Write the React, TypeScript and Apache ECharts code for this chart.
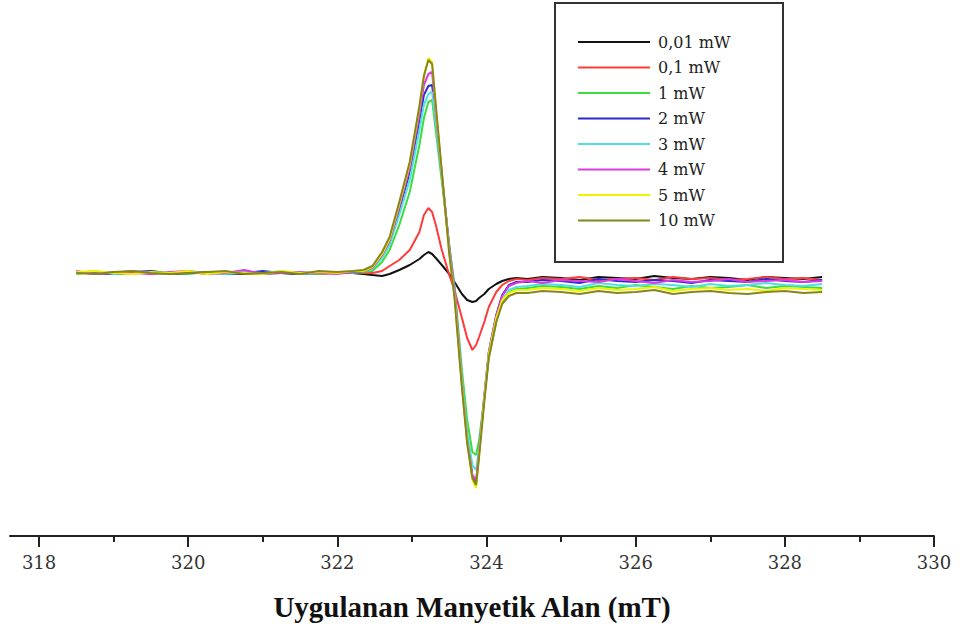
import React, { useEffect, useRef } from "react";
import * as echarts from "echarts";

// Magnetic field (mT)
const fieldMT = [
  318.5, 318.75, 319.0, 319.25, 319.5, 319.75, 320.0, 320.25, 320.5, 320.75, 321.0, 321.25, 321.5, 321.75, 322.0, 322.2,
  322.35, 322.47, 322.6, 322.7, 322.83, 322.97, 323.1, 323.16, 323.22, 323.27, 323.32, 323.4, 323.5, 323.57, 323.67, 323.74,
  323.81, 323.86, 323.9, 323.97, 324.03, 324.13, 324.21, 324.3, 324.4,
  324.55, 324.75, 325.0, 325.25, 325.5, 325.75, 326.0, 326.25, 326.5, 326.75, 327.0, 327.25, 327.5, 327.75, 328.0, 328.25, 328.5,
];

const seriesNames = ["0,01 mW", "0,1 mW", "1 mW", "2 mW", "3 mW", "4 mW", "5 mW", "10 mW"];

// EPR signal (a.u.)
const p001 = [
  0, 1, -1, 0, 1, -1, 0, 1, 0, -1, 1, 0, -1, 0, 1, 0,
  -1, -2, -3, -1, 3, 8, 14, 18, 21, 19, 15, 8, -1, -9, -21, -27, -29, -28, -25, -21, -16, -11, -8, -6, -5,
  -6, -4, -5, -7, -4, -5, -6, -3, -5, -6, -4, -5, -7, -4, -5, -6, -4,
];
const p01 = [
  1, -1, 0, 2, -1, 0, 1, -1, 1, 0, -1, 1, 0, -1, 0, 1,
  0, 0, 2, 7, 13, 23, 41, 58, 65, 61, 48, 23, -2, -17, -45, -65, -77, -72, -64, -49, -34, -19, -12, -8, -6,
  -7, -5, -6, -4, -7, -6, -5, -7, -4, -6, -5, -7, -6, -4, -6, -5, -7,
];
const p1 = [
  -1, 1, 0, -1, 2, 0, -1, 1, 0, 2, -1, 0, 1, -1, 1, 0,
  1, 2, 11, 23, 48, 81, 128, 155, 171, 173, 142, 92, 28, -12, -97, -147, -179, -182, -167, -125, -85, -49, -29, -19, -16,
  -15, -13, -14, -16, -13, -15, -12, -14, -16, -13, -15, -14, -12, -15, -13, -14, -15,
];
const p2 = [
  1, 0, -1, 1, 2, -1, 0, 1, -1, 0, 2, 0, -1, 1, 0, 1,
  2, 5, 17, 31, 63, 101, 153, 178, 187, 188, 155, 98, 26, -17, -109, -165, -203, -210, -179, -123, -79, -42, -22, -12, -9,
  -9, -7, -8, -10, -6, -8, -9, -7, -8, -10, -7, -8, -9, -6, -8, -9, -7,
];
const p3 = [
  0, 2, -1, 1, 0, -1, 2, 0, -1, 1, 0, 2, -1, 0, 1, 1,
  2, 4, 15, 28, 58, 93, 143, 168, 179, 181, 150, 96, 27, -15, -105, -159, -192, -197, -175, -125, -83, -47, -27, -17, -14,
  -13, -11, -12, -14, -10, -12, -13, -11, -12, -14, -11, -13, -12, -10, -12, -13, -11,
];
const p4 = [
  2, -1, 1, 0, -1, 1, 2, -1, 0, 3, -1, 0, 1, 0, -1, 1,
  2, 5, 18, 32, 66, 105, 159, 188, 199, 201, 160, 100, 24, -17, -111, -167, -202, -207, -179, -124, -80, -43, -23, -13, -10,
  -8, -10, -7, -8, -9, -6, -8, -10, -7, -9, -8, -6, -9, -8, -7, -9, -8,
];
const p5 = [
  1, 2, 0, -1, 1, 0, 2, -1, 1, 0, -1, 2, 0, 1, 0, 2,
  2, 6, 19, 34, 69, 109, 165, 198, 215, 211, 166, 100, 20, -23, -113, -169, -207, -215, -182, -125, -81, -45, -27, -20, -17,
  -17, -15, -16, -18, -15, -17, -16, -14, -18, -16, -15, -17, -16, -18, -15, -16, -17,
];
const p10 = [
  0, -1, 1, 2, 0, -1, 0, 1, 2, -1, 0, 1, -1, 2, 1, 2,
  3, 7, 21, 36, 71, 111, 167, 197, 213, 209, 168, 102, 19, -25, -115, -170, -205, -212, -184, -129, -85, -49, -31, -23, -20,
  -20, -18, -19, -21, -18, -20, -19, -17, -21, -19, -18, -20, -21, -19, -18, -20, -19,
];

const majorTicks = [318, 320, 322, 324, 326, 328, 330];
const minorTicks = [319, 321, 323, 325, 327, 329];

const seriesData = [p001, p01, p1, p2, p3, p4, p5, p10];
const seriesColors = ["#111111", "#ff3a3a", "#3ddc3d", "#2a2ad0", "#4fe0e0", "#dd3bdd", "#f2f200", "#86861c"];

export default function App() {
  const ref = useRef<HTMLDivElement>(null);

  useEffect(() => {
    if (!ref.current) return;
    const chart = echarts.init(ref.current, undefined, { renderer: "svg" });
    const xMin = 317.61;
    const xMax = 330;
    const option: any = {
      animation: false,
      backgroundColor: "#ffffff",
      grid: { left: 10, right: 27, top: 20, bottom: 94, containLabel: false },
      legend: {
        orient: "vertical",
        left: 578,
        top: 33,
        padding: 0,
        itemGap: 7.5,
        itemWidth: 72,
        itemHeight: 2,
        icon: "rect",
        data: seriesNames,
        textStyle: {
          fontFamily: "DejaVu Serif",
          fontSize: 16,
          lineHeight: 18,
          color: "#222",
          padding: [0, 0, 0, 3],
        },
      },
      xAxis: [
        {
          type: "value",
          min: xMin,
          max: xMax,
          position: "bottom",
          splitLine: { show: false },
          axisLine: { show: true, onZero: false, lineStyle: { color: "#222", width: 2 } },
          axisTick: { show: true, customValues: majorTicks, length: 11, lineStyle: { color: "#222", width: 2 } },
          axisLabel: {
            customValues: majorTicks,
            margin: 17,
            fontFamily: "DejaVu Serif",
            fontSize: 18,
            color: "#333",
          },
          name: "Uygulanan Manyetik Alan (mT)",
          nameLocation: "middle",
          nameGap: 56,
          nameTextStyle: {
            fontFamily: "Liberation Serif",
            fontWeight: "bold",
            fontSize: 29,
            color: "#111",
          },
        },
        {
          type: "value",
          min: xMin,
          max: xMax,
          position: "bottom",
          offset: 0,
          splitLine: { show: false },
          axisLine: { show: false, onZero: false },
          axisTick: { show: true, customValues: minorTicks, length: 6, lineStyle: { color: "#222", width: 2 } },
          axisLabel: { show: false },
        },
      ],
      yAxis: {
        type: "value",
        min: -263,
        max: 253,
        show: false,
        splitLine: { show: false },
      },
      graphic: [
        {
          type: "rect",
          shape: { x: 555, y: 3, width: 228, height: 259 },
          style: { fill: "none", stroke: "#333", lineWidth: 2 },
          z: 10,
        },
      ],
      series: seriesNames.map((name, i) => ({
        name,
        type: "line",
        xAxisIndex: 0,
        showSymbol: false,
        symbol: "none",
        color: seriesColors[i],
        lineStyle: { width: 2, color: seriesColors[i] },
        data: fieldMT.map((x, j) => [x, seriesData[i][j]]),
        z: 2 + i,
      })),
    };
    chart.setOption(option);
    return () => chart.dispose();
  }, []);

  return (
    <div
      ref={ref}
      style={{ position: "fixed", left: 0, top: 0, width: 961, height: 630, background: "#fff" }}
    />
  );
}
